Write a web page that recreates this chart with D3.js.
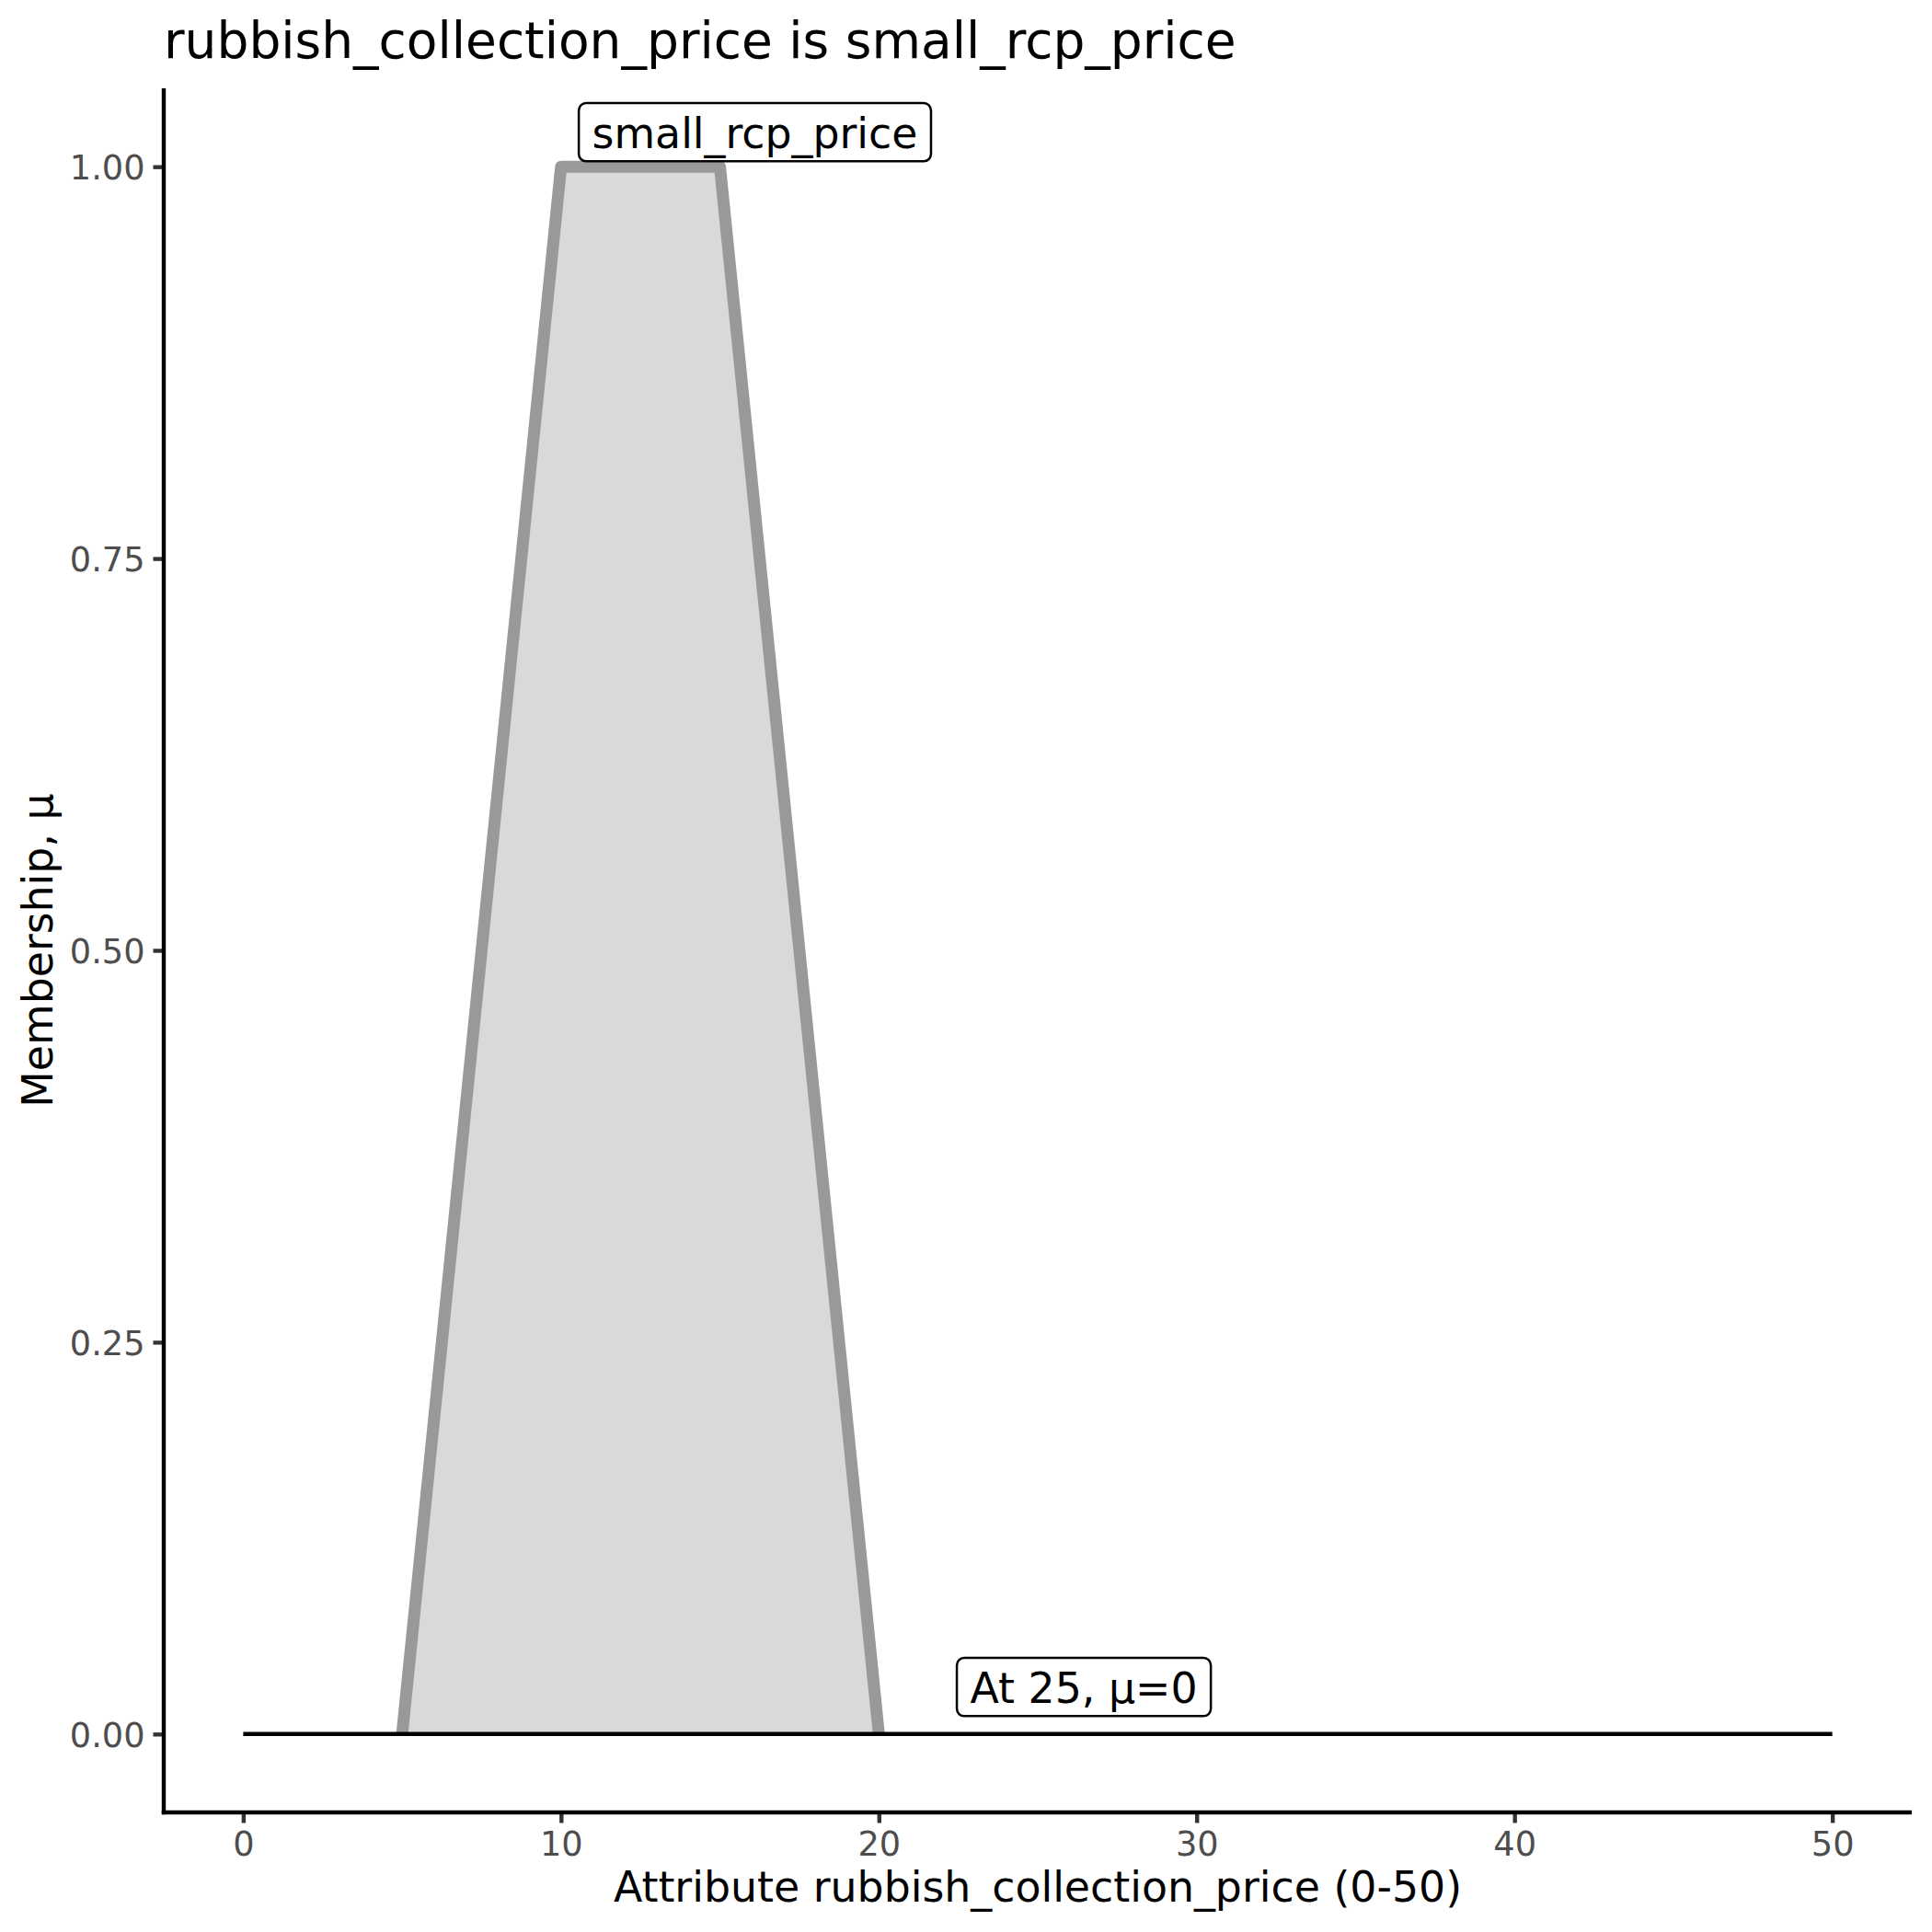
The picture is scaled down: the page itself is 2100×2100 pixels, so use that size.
<!DOCTYPE html>
<html>
<head>
<meta charset="utf-8">
<script src="https://cdn.jsdelivr.net/npm/d3@7"></script>
<style>
  html, body { margin: 0; padding: 0; background: #ffffff; }
  svg { display: block; font-family: "DejaVu Sans", sans-serif; }
</style>
</head>
<body>
<svg id="chart" width="2100" height="2100"></svg>
<script>
// ---- data ----
const setX = [5, 10, 15, 20];
const setMu = [0, 1, 1, 0];
const baseX = [0, 50];
const baseMu = [0, 0];
const labelText = ["small_rcp_price", "At 25, μ=0"];
const labelX = [16.1, 26.45];
const labelY = [1.022, 0.030];
const xTicks = [0, 10, 20, 30, 40, 50];
const yTicks = [0, 0.25, 0.5, 0.75, 1];
const titleText = "rubbish_collection_price is small_rcp_price";
const xTitle = "Attribute rubbish_collection_price (0-50)";
const yTitle = "Membership, μ";

// ---- layout ----
(function () {
const W = 2100, H = 2100;
const pLeft = 178, pRight = 2078, pTop = 96, pBottom = 1970;
const svg = d3.select("#chart");
svg.append("rect").attr("width", W).attr("height", H).attr("fill", "#ffffff");

const x = d3.scaleLinear().domain([-2.5, 52.5]).range([pLeft, pRight]);
const y = d3.scaleLinear().domain([-0.05, 1.05]).range([pBottom, pTop]);

const setPts = setX.map((d, i) => [d, setMu[i]]);
const basePts = baseX.map((d, i) => [d, baseMu[i]]);

// fill area
const area = d3.area().x(d => x(d[0])).y0(y(0)).y1(d => y(d[1]));
svg.append("path").datum(setPts).attr("d", area).attr("fill", "#d9d9d9");

// membership outline
const line = d3.line().x(d => x(d[0])).y(d => y(d[1]));
svg.append("path").datum(setPts).attr("d", line)
  .attr("fill", "none").attr("stroke", "#999999").attr("stroke-width", 13)
  .attr("stroke-linejoin", "round").attr("stroke-linecap", "butt");

// baseline black
svg.append("path").datum(basePts).attr("d", line)
  .attr("fill", "none").attr("stroke", "#000000").attr("stroke-width", 4.4)
  .attr("stroke-linecap", "butt");

// axes
const xAxis = d3.axisBottom(x).tickValues(xTicks).tickSize(11.5).tickPadding(9).tickFormat(d3.format("d"));
const gx = svg.append("g").attr("transform", `translate(0,${pBottom})`).call(xAxis);
const yAxis = d3.axisLeft(y).tickValues(yTicks).tickSize(11.5).tickPadding(9).tickFormat(d3.format(".2f"));
const gy = svg.append("g").attr("transform", `translate(${pLeft},0)`).call(yAxis);

[gx, gy].forEach(g => {
  g.select(".domain").remove();
  g.selectAll(".tick line").attr("stroke", "#333333").attr("stroke-width", 4.4);
  g.selectAll(".tick text").attr("fill", "#4D4D4D").style("font-size", "36.7px")
    .style("font-family", "DejaVu Sans");
});
gx.selectAll(".tick text").attr("y", 47).attr("dy", "0");
gy.selectAll(".tick text").attr("dy", "0.36em");

// axis lines
svg.append("line").attr("x1", pLeft).attr("x2", pLeft).attr("y1", pTop).attr("y2", pBottom + 2.2)
  .attr("stroke", "#000").attr("stroke-width", 4.4);
svg.append("line").attr("x1", pLeft - 2.2).attr("x2", pRight).attr("y1", pBottom).attr("y2", pBottom)
  .attr("stroke", "#000").attr("stroke-width", 4.4);

// labels
const fs = 45.8;
labelText.forEach((t, i) => {
  const g = svg.append("g");
  const txt = g.append("text").attr("x", x(labelX[i])).attr("y", 0)
    .attr("text-anchor", "middle").style("font-size", fs + "px").attr("fill", "#000").text(t);
  const tw = txt.node().getComputedTextLength();
  const cy = y(labelY[i]);
  const boxH = 63.3;
  const baseline = cy + boxH / 2 - 14.5;
  txt.attr("y", baseline);
  g.insert("rect", "text")
    .attr("x", x(labelX[i]) - tw / 2 - 14.5).attr("y", cy - boxH / 2)
    .attr("width", tw + 29).attr("height", boxH)
    .attr("rx", 8).attr("ry", 8)
    .attr("fill", "#ffffff").attr("stroke", "#000").attr("stroke-width", 2.5);
});

// titles
svg.append("text").attr("x", pLeft).attr("y", 63).style("font-size", "55px").attr("fill", "#000").text(titleText);
svg.append("text").attr("x", (pLeft + pRight) / 2).attr("y", 2067).attr("text-anchor", "middle")
  .style("font-size", "45.8px").attr("fill", "#000").text(xTitle);
svg.append("text").attr("transform", `translate(57,${(pTop + pBottom) / 2}) rotate(-90)`)
  .attr("text-anchor", "middle").style("font-size", "45.8px").attr("fill", "#000").text(yTitle);
})();
</script>
</body>
</html>
